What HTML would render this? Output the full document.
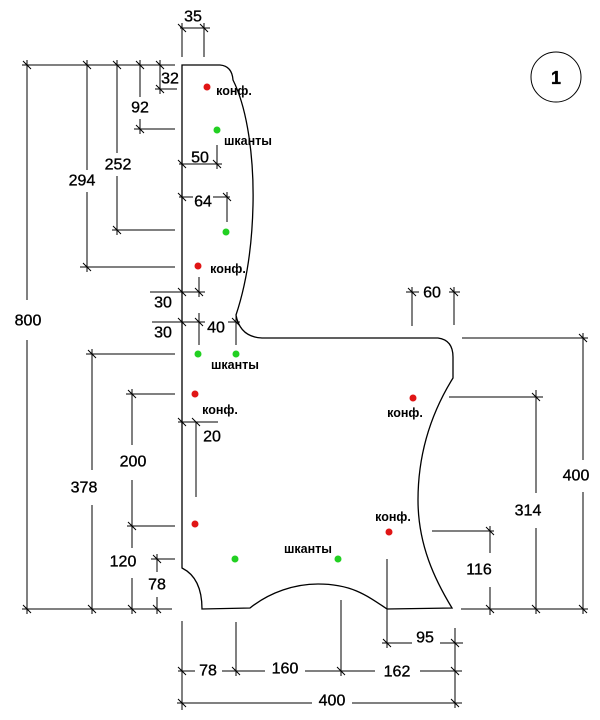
<!DOCTYPE html>
<html><head><meta charset="utf-8"><style>
html,body{margin:0;padding:0;background:#fff;}
svg{display:block;}
.n{font-family:"Liberation Sans",Arial,sans-serif;font-size:16px;fill:#000;stroke:#000;stroke-width:0.35px;}
.l{font-family:"Liberation Sans","Noto Sans CJK SC",sans-serif;font-size:12.5px;font-weight:bold;fill:#000;}
</style></head><body>
<svg width="600" height="720" viewBox="0 0 600 720" xmlns="http://www.w3.org/2000/svg">
<rect width="600" height="720" fill="#fff"/>
<!-- main shape -->
<path d="M182,65 L220,65 Q232,66 233,80 C248,110 254,160 253,205 C252,250 246,285 236,315 Q240,337 262,338 L438,338 Q453,340 453,357 L453,378 C430,415 418,455 418,500 C418,545 435,580 452,608 L387,609 C365,594 350,584 318,584 C295,584 270,592 250,608 L202,609 Q202,578 182,568 Z" fill="none" stroke="#000" stroke-width="1.3"/>
<!-- dimension lines -->
<path fill="none" stroke="#000" stroke-width="1" d="
M182,23 V57 M204,23 V57 M180,28 H210
M22,65 H175
M27,60 V300 M27,340 V614
M87,60 V170 M87,192 V272 M80,267 H175
M117,60 V153 M117,176 V235 M112,230 H175
M140,60 V97 M140,119 V134 M134,129 H175
M160,60 V94 M155,89 H177
M179,164 H222 M217,145 V169
M179,197 H193 M213,197 H230 M227,192 V222
M199,277 V297
M150,292 H205 M152,322 H205
M199,313 V345
M228,322 H240 M236,315 V345
M92,349 V470 M92,505 V614 M86,354 H175
M132,389 V445 M132,480 V548 M132,578 V614 M126,394 H175 M127,526 H175
M178,422 H218 M196,422 V497
M157,554 V572 M157,597 V614 M151,559 H175
M22,609 H172
M182,621 V710 M236,622 V676 M341,600 V676 M387,559 V648 M455,628 V708
M382,643 H412 M440,643 H463
M178,671 H195 M222,671 H265 M305,671 H375 M420,671 H462
M177,703 H312 M352,703 H462
M406,292 H419 M449,292 H460 M412,287 V326 M454,287 V325
M462,338 H588 M583,333 V460 M583,492 V614
M449,397 H543 M536,390 V493 M536,528 V614
M432,531 H494 M490,526 V553 M490,587 V615
M461,609 H588
"/>
<!-- ticks -->
<path fill="none" stroke="#000" stroke-width="1" d="
M178,24 l8,8 M200,24 l8,8
M23,61 l8,8 M83,61 l8,8 M113,61 l8,8 M136,61 l8,8 M156,61 l8,8
M156,85 l8,8 M136,125 l8,8 M113,226 l8,8 M83,263 l8,8
M178,160 l8,8 M213,160 l8,8 M178,193 l8,8 M223,193 l8,8
M178,288 l8,8 M195,288 l8,8 M178,318 l8,8 M195,318 l8,8 M232,318 l8,8
M88,350 l8,8 M128,390 l8,8 M128,522 l8,8 M178,418 l8,8 M192,418 l8,8 M153,555 l8,8
M23,605 l8,8 M88,605 l8,8 M128,605 l8,8 M153,605 l8,8
M178,667 l8,8 M232,667 l8,8 M337,667 l8,8 M451,667 l8,8
M178,699 l8,8 M451,699 l8,8 M383,639 l8,8 M451,639 l8,8
M408,288 l8,8 M450,288 l8,8
M579,334 l8,8 M532,393 l8,8 M486,527 l8,8
M486,605 l8,8 M532,605 l8,8 M579,605 l8,8
"/>
<!-- dots -->
<g fill="#e01515">
<circle cx="207" cy="87" r="3.5"/>
<circle cx="198" cy="266" r="3.5"/>
<circle cx="195" cy="394" r="3.5"/>
<circle cx="195" cy="524" r="3.5"/>
<circle cx="413" cy="398" r="3.5"/>
<circle cx="389" cy="532" r="3.5"/>
</g>
<g fill="#22d022">
<circle cx="217" cy="130" r="3.5"/>
<circle cx="226" cy="232" r="3.5"/>
<circle cx="198" cy="354" r="3.5"/>
<circle cx="236" cy="354" r="3.5"/>
<circle cx="235" cy="559" r="3.5"/>
<circle cx="338" cy="559" r="3.5"/>
</g>
<!-- labels -->
<g class="l" dominant-baseline="central" text-anchor="middle">
<text x="234" y="91">конф.</text>
<text x="248" y="141">шканты</text>
<text x="228" y="269">конф.</text>
<text x="235" y="365">шканты</text>
<text x="220" y="410">конф.</text>
<text x="405" y="413">конф.</text>
<text x="393" y="517">конф.</text>
<text x="308" y="549">шканты</text>
</g>
<!-- numbers -->
<g class="n" dominant-baseline="central" text-anchor="middle">
<text x="193" y="17">35</text>
<text x="170" y="79">32</text>
<text x="140" y="108">92</text>
<text x="118" y="165">252</text>
<text x="82" y="181">294</text>
<text x="200" y="158">50</text>
<text x="203" y="202">64</text>
<text x="28" y="321">800</text>
<text x="163" y="303">30</text>
<text x="163" y="333">30</text>
<text x="216" y="328">40</text>
<text x="212" y="437">20</text>
<text x="133" y="462">200</text>
<text x="84" y="488">378</text>
<text x="123" y="562">120</text>
<text x="157" y="585">78</text>
<text x="208" y="671">78</text>
<text x="285" y="669">160</text>
<text x="397" y="672">162</text>
<text x="332" y="701">400</text>
<text x="425" y="638">95</text>
<text x="432" y="293">60</text>
<text x="576" y="476">400</text>
<text x="528" y="511">314</text>
<text x="479" y="570">116</text>
</g>
<!-- circle 1 -->
<circle cx="556" cy="77" r="25" fill="none" stroke="#000" stroke-width="1"/>
<text x="556" y="78" class="n" style="font-weight:bold;font-size:18px" text-anchor="middle" dominant-baseline="central">1</text>
</svg>
</body></html>
